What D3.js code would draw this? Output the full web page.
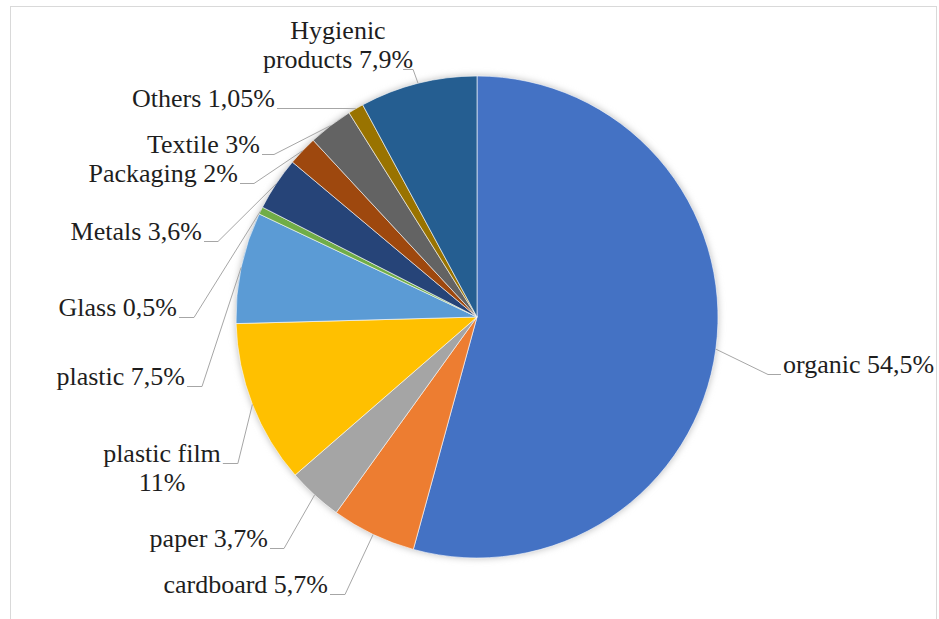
<!DOCTYPE html>
<html>
<head>
<meta charset="utf-8">
<script src="https://cdn.jsdelivr.net/npm/d3@7"></script>
<style>
    body { margin: 0; background: #fff; }
    .lbl { font-family: "Liberation Serif"; }
</style>
</head>
<body>
<div id="chart"></div>
<script>
// Waste composition (%), clockwise from 12 o'clock
const categories = ["organic", "cardboard", "paper", "plastic film", "plastic", "Glass",
    "Metals", "Packaging", "Textile", "Others", "Hygienic products"];
const values = [54.5, 5.7, 3.7, 11, 7.5, 0.5, 3.6, 2, 3, 1.05, 7.9];
const colors = ["#4472C4", "#ED7D31", "#A5A5A5", "#FFC000", "#5B9BD5", "#70AD47",
    "#264478", "#9E480E", "#636363", "#997300", "#255E91"];

// label text lines (Excel wrapped some of them)
const labelLines = [
    ["organic 54,5%"], ["cardboard 5,7%"], ["paper 3,7%"], ["plastic film", "11%"],
    ["plastic 7,5%"], ["Glass 0,5%"], ["Metals 3,6%"], ["Packaging 2%"],
    ["Textile 3%"], ["Others 1,05%"], ["Hygienic", "products 7,9%"]
];

// manual label placement (as dragged in the original): anchor x, first baseline, anchor, elbow length
const labelAt = [
    {x: 783, y: 373, anchor: "start", elbow: 13},
    {x: 328, y: 593, anchor: "end", elbow: 15},
    {x: 268, y: 547, anchor: "end", elbow: 14},
    {x: 162, y: 462, anchor: "middle", elbow: 15},
    {x: 185, y: 385, anchor: "end", elbow: 15},
    {x: 177, y: 316, anchor: "end", elbow: 15},
    {x: 202, y: 240, anchor: "end", elbow: 14},
    {x: 238, y: 182, anchor: "end", elbow: 14},
    {x: 260, y: 153, anchor: "end", elbow: 12},
    {x: 275, y: 107, anchor: "end", elbow: 70},
    {x: 338, y: 39, anchor: "middle", elbow: 0, line: 1}
];

const width = 939;
const height = 619;
const cx = 477, cy = 317, radius = 241;
const lineHeight = 29;

const svg = d3.select("#chart")
    .append("svg")
    .attr("width", width)
    .attr("height", height);

// chart area border
svg.append("rect")
    .attr("x", 10.5)
    .attr("y", 6.5)
    .attr("width", 926)
    .attr("height", 640)
    .attr("fill", "#fff")
    .attr("stroke", "#D9D9D9");

// soft shadow behind the pie
const defs = svg.append("defs");
defs.append("filter")
    .attr("id", "glow")
    .attr("x", "-20%").attr("y", "-20%")
    .attr("width", "140%").attr("height", "140%")
    .append("feGaussianBlur")
    .attr("stdDeviation", 3);

const g = svg.append("g")
    .attr("transform", `translate(${cx},${cy})`);

g.append("circle")
    .attr("r", radius + 1)
    .attr("fill", "#c8c8c8")
    .attr("filter", "url(#glow)");

const data = categories.map((c, i) => ({name: c, value: values[i], color: colors[i]}));

const pie = d3.pie()
    .value(d => d.value)
    .sort(null);

const arcs = pie(data);

const arc = d3.arc()
    .innerRadius(0)
    .outerRadius(radius);

g.selectAll("path.slice")
    .data(arcs)
    .join("path")
    .attr("class", "slice")
    .attr("d", arc)
    .attr("fill", d => d.data.color)
    .attr("stroke", "#fff")
    .attr("stroke-width", 0.6);

// labels
const labels = svg.append("g");
const leaders = svg.append("g");

arcs.forEach((a, i) => {
    const pos = labelAt[i];
    const t = labels.append("text")
        .attr("class", "lbl")
        .attr("text-anchor", pos.anchor)
        .attr("font-size", 26)
        .attr("fill", "#1e1e1e");
    labelLines[i].forEach((line, k) => {
        t.append("tspan")
            .attr("x", pos.x)
            .attr("y", pos.y + k * lineHeight)
            .text(line);
    });

    // leader line from label side to slice edge
    const k = pos.line || 0;
    const tspan = t.selectAll("tspan").nodes()[k];
    const w = tspan.getComputedTextLength();
    let right, left;
    if (pos.anchor === "end") { right = pos.x; left = pos.x - w; }
    else if (pos.anchor === "start") { left = pos.x; right = pos.x + w; }
    else { left = pos.x - w / 2; right = pos.x + w / 2; }
    const by = pos.y + k * lineHeight + 1.5;

    const mid = (a.startAngle + a.endAngle) / 2;
    const ex = cx + radius * Math.sin(mid);
    const ey = cy - radius * Math.cos(mid);

    let pts;
    if (pos.anchor === "start") {
        pts = [[left - 2, by], [left - 2 - pos.elbow, by], [ex, ey]];
    } else if (pos.elbow === 0) {
        pts = [[right - 10, by], [right, by], [ex, ey]];
    } else {
        pts = [[right + 2, by], [right + 2 + pos.elbow, by], [ex, ey]];
    }
    leaders.append("path")
        .attr("d", d3.line()(pts))
        .attr("fill", "none")
        .attr("stroke", "#A6A6A6")
        .attr("stroke-width", 1);
});
</script>
</body>
</html>
